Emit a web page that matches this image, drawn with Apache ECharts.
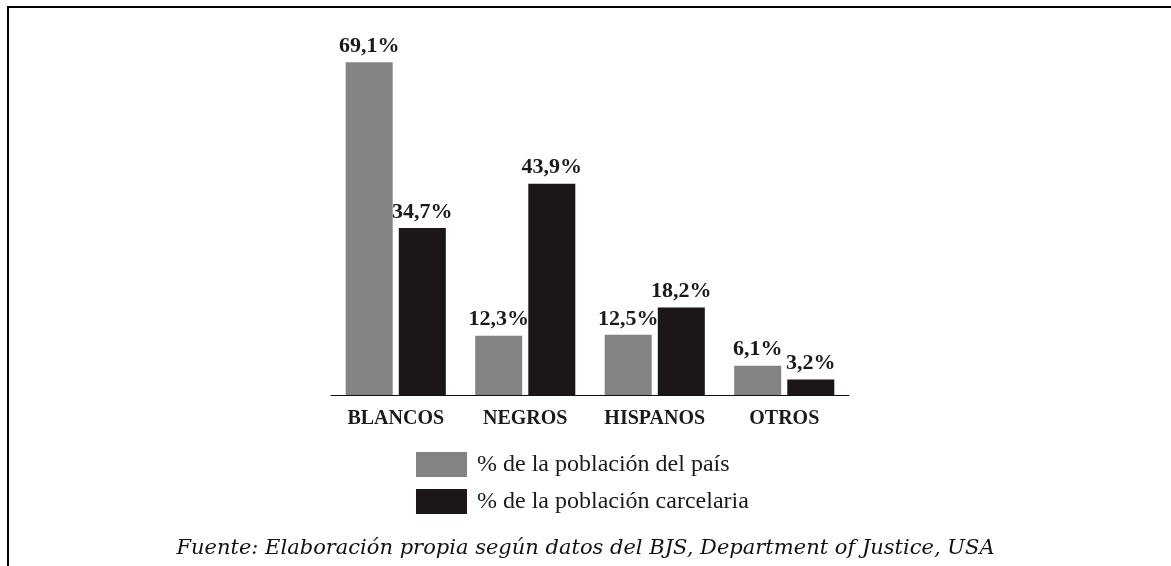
<!DOCTYPE html>
<html>
<head>
<meta charset="utf-8">
<script src="https://cdn.jsdelivr.net/npm/echarts@6/dist/echarts.min.js"></script>
<style>
html,body{margin:0;padding:0;background:#fff;}
#chart{width:1171px;height:566px;}
</style>
</head>
<body>
<div id="chart"></div>
<script>
const categories = ['BLANCOS', 'NEGROS', 'HISPANOS', 'OTROS'];
const poblacionPais = [69.1, 12.3, 12.5, 6.1];
const poblacionCarcelaria = [34.7, 43.9, 18.2, 3.2];
const seriesNames = ['% de la población del país', '% de la población carcelaria'];
const footnote = 'Fuente: Elaboración propia según datos del BJS, Department of Justice, USA';

const times = '"Liberation Serif", "Times New Roman", serif';
const wide = '"DejaVu Serif", "Liberation Serif", serif';
const fmt = p => String(p.value).replace('.', ',') + '%';

const chart = echarts.init(document.getElementById('chart'), null, {renderer: 'canvas'});
const valueLabel = {show: true, position: 'top', distance: 5, formatter: fmt,
  color: '#1a1a1a', fontFamily: times, fontWeight: 'bold', fontSize: 22};
chart.setOption({
  backgroundColor: '#ffffff',
  animation: false,
  grid: {left: 331, right: 322, top: 58, bottom: 171},
  xAxis: {
    type: 'category',
    data: categories,
    axisLine: {lineStyle: {color: '#111', width: 1}},
    axisTick: {show: false},
    axisLabel: {interval: 0, color: '#1a1a1a', fontFamily: times, fontSize: 20, fontWeight: 'bold', margin: 14}
  },
  yAxis: {
    type: 'value', min: 0, max: 70,
    show: false,
    splitLine: {show: false}
  },
  legend: {
    orient: 'vertical',
    left: 411, top: 447,
    itemWidth: 51, itemHeight: 25, itemGap: 12,
    icon: 'rect',
    textStyle: {color: '#1a1a1a', fontFamily: times, fontSize: 24, padding: [0, 0, 0, 5]},
    data: seriesNames
  },
  series: [
    {
      name: seriesNames[0], type: 'bar', data: poblacionPais,
      barWidth: 47, barGap: '13%',
      itemStyle: {color: '#838383'},
      label: valueLabel
    },
    {
      name: seriesNames[1], type: 'bar', data: poblacionCarcelaria,
      barWidth: 47,
      itemStyle: {color: '#1c1616'},
      label: valueLabel
    }
  ],
  graphic: [
    {type: 'line', shape: {x1: 7, y1: 7, x2: 1171, y2: 7}, style: {stroke: '#000', lineWidth: 2}},
    {type: 'line', shape: {x1: 8, y1: 6, x2: 8, y2: 566}, style: {stroke: '#000', lineWidth: 2}},
    {type: 'text', left: 'center', top: 538,
     style: {text: footnote, font: 'italic 21px ' + wide, fill: '#111'}}
  ]
});
</script>
</body>
</html>
